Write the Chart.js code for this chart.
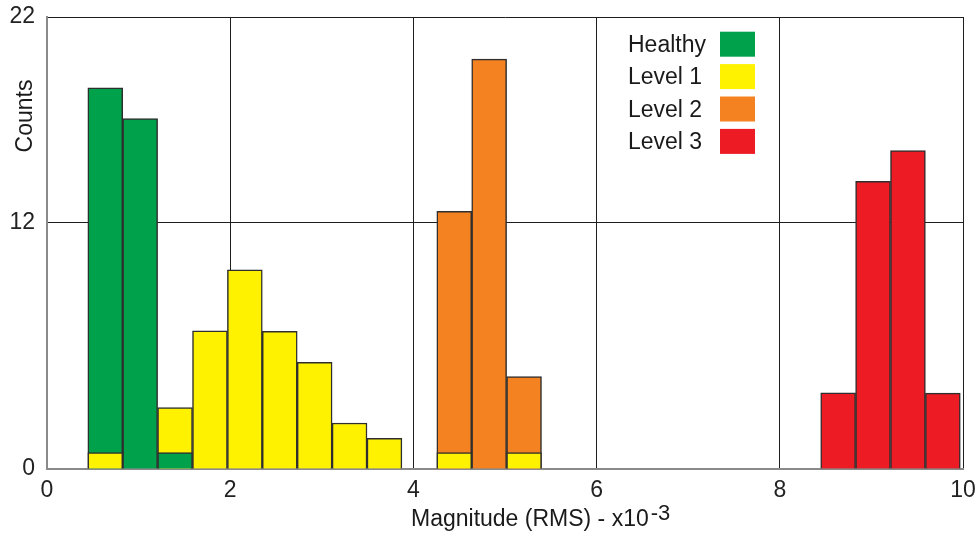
<!DOCTYPE html>
<html>
<head>
<meta charset="utf-8">
<script src="https://cdn.jsdelivr.net/npm/chart.js@4"></script>
<style>
  html, body { margin: 0; padding: 0; background: #fff; }
  #wrap { width: 980px; height: 536px; }
</style>
</head>
<body>
<div id="wrap"><canvas id="histChart" width="980" height="536"></canvas></div>
<script>
// histogram bin centres (magnitude, x10^-3)
const binCenters = [0.636, 1.017, 1.398, 1.779, 2.160, 2.541, 2.922, 3.303, 3.684,
                    4.446, 4.827, 5.208, 8.637, 9.018, 9.399, 9.780];

// counts per bin, null = empty
const healthy = [18.55, 17.06, 0.8, null, null, null, null, null, null,
                 null, null, null, null, null, null, null];
const level1  = [0.8, null, 2.99, 6.72, 9.69, 6.70, 5.19, 2.24, 1.49,
                 0.8, null, 0.8, null, null, null, null];
const level2  = [null, null, null, null, null, null, null, null, null,
                 12.54, 19.95, 4.50, null, null, null, null];
const level3  = [null, null, null, null, null, null, null, null, null,
                 null, null, null, 3.71, 14.0, 15.5, 3.69];

const seriesNames = ['Healthy', 'Level 1', 'Level 2', 'Level 3'];
const seriesColors = ['#00a14b', '#fff200', '#f58220', '#ed1c24'];
const yTicks = [0, 12, 22];
const xTicks = [0, 2, 4, 6, 8, 10];

const FONT = '"Liberation Sans", Arial, Helvetica, sans-serif';
Chart.defaults.font.family = FONT;
Chart.defaults.font.size = 23;
Chart.defaults.color = '#222';

function toPoints(values) {
    return binCenters
        .map((x, i) => ({ x: x, y: values[i] }))
        .filter(p => p.y !== null);
}

// draw the taller bars first so the short ones stay visible in front
const tallestBehind = {
    id: 'tallestBehind',
    beforeDatasetsDraw(chart) {
        const bars = [];
        chart.getSortedVisibleDatasetMetas().forEach(meta => {
            meta.data.forEach(el => bars.push(el));
        });
        bars.sort((a, b) => a.y - b.y);
        bars.forEach(el => el.draw(chart.ctx, chart.chartArea));
        return false;
    }
};

// legend inside the plot: label then colour swatch
const sideLegend = {
    id: 'sideLegend',
    afterDraw(chart) {
        const ctx = chart.ctx;
        ctx.save();
        ctx.font = '23px ' + FONT;
        ctx.textBaseline = 'alphabetic';
        chart.data.datasets.forEach((ds, i) => {
            const cy = 44.2 + i * 32.4;
            ctx.fillStyle = '#1a1a1a';
            ctx.fillText(ds.label, 628, cy + 7.5);
            ctx.fillStyle = ds.backgroundColor;
            ctx.fillRect(720, cy - 12.5, 35, 25);
        });
        ctx.restore();
    }
};

// axis titles (x title has a superscript exponent)
const axisTitles = {
    id: 'axisTitles',
    afterDraw(chart) {
        const ctx = chart.ctx;
        ctx.save();
        ctx.fillStyle = '#1a1a1a';
        ctx.font = '23px ' + FONT;
        ctx.textBaseline = 'alphabetic';

        ctx.save();
        ctx.translate(32, 116);
        ctx.rotate(-Math.PI / 2);
        ctx.textAlign = 'center';
        ctx.fillText('Counts', 0, 0);
        ctx.restore();

        const main = 'Magnitude (RMS) - x10';
        ctx.textAlign = 'left';
        ctx.fillText(main, 411, 526);
        const w = ctx.measureText(main).width;
        ctx.font = '22px ' + FONT;
        ctx.fillText('-3', 411 + w + 2, 520);
        ctx.restore();
    }
};

const ctxHist = document.getElementById('histChart');
new Chart(ctxHist, {
    type: 'bar',
    data: {
        datasets: [healthy, level1, level2, level3].map((vals, i) => ({
            label: seriesNames[i],
            data: toPoints(vals),
            backgroundColor: seriesColors[i],
            borderColor: '#2e2e2e',
            borderWidth: 1.5,
            grouped: false,
            barPercentage: 1,
            categoryPercentage: 1
        }))
    },
    options: {
        responsive: false,
        animation: false,
        layout: { padding: { top: 17, right: 17, left: 0, bottom: 0 } },
        plugins: {
            legend: { display: false },
            tooltip: { enabled: false }
        },
        scales: {
            x: {
                type: 'linear',
                min: 0,
                max: 10,
                offset: false,
                afterFit: scale => {
                    scale.height = 67;
                    scale.paddingLeft = 0;
                    scale.paddingRight = 0;
                },
                afterBuildTicks: scale => { scale.ticks = xTicks.map(v => ({ value: v })); },
                grid: {
                    offset: false,
                    drawTicks: false,
                    color: c => (c.tick && c.tick.value === 0) ? 'rgba(0,0,0,0)' : '#1e1e1e',
                    lineWidth: 1
                },
                border: { color: '#8a8a8a', width: 2 },
                ticks: { padding: 8, maxRotation: 0 }
            },
            y: {
                min: 0,
                max: 22,
                afterFit: scale => {
                    scale.width = 47;
                    scale.paddingTop = 0;
                    scale.paddingBottom = 0;
                },
                afterBuildTicks: scale => { scale.ticks = yTicks.map(v => ({ value: v })); },
                grid: {
                    drawTicks: false,
                    color: c => (c.tick && c.tick.value === 0) ? 'rgba(0,0,0,0)' : '#1e1e1e',
                    lineWidth: 1
                },
                border: { color: '#8a8a8a', width: 2 },
                ticks: { padding: 12 }
            }
        }
    },
    plugins: [tallestBehind, sideLegend, axisTitles]
});
</script>
</body>
</html>
